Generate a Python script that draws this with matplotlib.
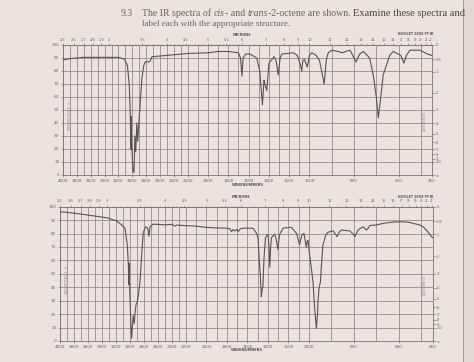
import numpy as np
import matplotlib
matplotlib.use("Agg")
import matplotlib.pyplot as plt
from matplotlib.patches import Rectangle
from matplotlib.lines import Line2D

plt.rcParams['font.family'] = ['DejaVu Sans']

# ---------------- data ----------------
wavenumber_ticks = [4000, 3800, 3600, 3400, 3200, 3000, 2800, 2600, 2400, 2200,
                    2000, 1800, 1600, 1400, 1200, 1000, 800, 600, 450]
wavenumber_grid = list(range(4000, 400, -100)) + [450]
micron_ticks = [2.5, 2.6, 2.7, 2.8, 2.9, 3, 3.5, 4, 4.5, 5, 5.5, 6, 7, 8, 9, 10,
                11, 12, 13, 14, 15, 16, 17, 18, 19, 20, 21, 22]
micron_labels = ['2.5', '2.6', '2.7', '2.8', '2.9', '3', '3.5', '4', '4.5', '5',
                 '5.5', '6', '7', '8', '9', '10', '11', '12', '13', '14', '15',
                 '16', '17', '18', '19', '20', '21', '22']
micron_minor = [3.1, 3.2, 3.3, 3.4, 3.6, 3.7, 3.8, 3.9, 4.1, 4.2, 4.3, 4.4, 4.6,
                4.7, 4.8, 4.9, 5.1, 5.2, 5.3, 5.4, 5.6, 5.7, 5.8, 5.9, 6.5, 7.5,
                8.5, 9.5, 10.5, 11.5, 12.5, 13.5, 14.5]
transmittance_ticks = [0, 10, 20, 30, 40, 50, 60, 70, 80, 90, 100]
absorbance_ticks = [0.0, 0.05, 0.1, 0.2, 0.3, 0.4, 0.5, 0.6, 0.7, 0.8, 0.9, 1.0]
absorbance_labels = ['0', '.05', '.1', '.2', '.3', '.4', '.5', '.6', '.7', '.8',
                     '.9', '1.0']

# upper spectrum (wavenumber, %T)
top_wn = [4000, 3900, 3700, 3400, 3200, 3110, 3070, 3045, 3030, 3022, 3015, 3008,
          2990, 2975, 2962, 2950, 2935, 2922, 2905, 2880, 2860, 2835, 2815, 2760,
          2740, 2715, 2500, 2300, 2200, 2000, 1900, 1800, 1700, 1680, 1665, 1655,
          1630, 1585, 1520, 1490, 1464, 1448, 1440, 1421, 1400, 1349, 1330, 1307,
          1290, 1273, 1159, 1120, 1090, 1077, 1065, 1051, 1035, 1022, 1000, 990,
          970, 955, 934, 925, 916, 900, 870, 855, 818, 791, 775, 758, 730, 714,
          700, 691, 680, 669, 640, 624, 590, 576, 565, 549, 504, 470, 451]
top_T = [88.5, 89.5, 90.5, 90.5, 90.5, 89, 84, 70, 50, 20, 45, 22,
         3, 2, 30, 18, 40, 26, 40, 60, 75, 84, 87, 87,
         88, 91, 92, 93, 93.5, 94, 95, 95, 94, 90, 76, 90,
         93, 93, 90, 80, 54, 73, 70, 65, 86, 91, 88, 77,
         90, 93, 94, 92, 85, 80, 88, 89, 86, 83, 92, 94,
         92, 88, 70, 88, 94, 96, 95, 94, 96, 87, 93, 95, 90, 77,
         60, 44, 60, 77, 92, 95, 92, 86, 92, 96, 96, 93, 92]

# lower spectrum (wavenumber, %T)
bot_wn = [4000, 3850, 3667, 3500, 3333, 3190, 3119, 3071, 3038, 3022, 3018, 3014,
          3008, 2995, 2986, 2976, 2965, 2953, 2939, 2925, 2914, 2896, 2881, 2857,
          2833, 2810, 2776, 2747, 2729, 2714, 2667, 2500, 2400, 2360, 2333, 2238,
          2100, 1999, 1900, 1804, 1770, 1755, 1740, 1722, 1705, 1691, 1670, 1643,
          1545, 1510, 1497, 1483, 1473, 1465, 1458, 1449, 1440, 1425, 1410, 1399,
          1390, 1382, 1374, 1366, 1333, 1315, 1302, 1293, 1285, 1253, 1172, 1120,
          1100, 1091, 1080, 1065, 1049, 1035, 1026, 1018, 1010, 1000, 990, 982,
          975, 967, 962, 960, 955, 949, 945, 938, 925, 915, 893, 884, 875, 866,
          856, 819, 805, 796, 789, 782, 770, 759, 750, 744, 737, 729, 700, 670,
          630, 596, 560, 537, 510, 492, 470, 455, 450]
bot_T = [96.3, 95.5, 94.3, 93, 91.8, 89.4, 86.4, 83.9, 71.5, 55, 42, 58,
         45, 25, 9.5, 2, 12, 19, 13, 22, 27, 29, 34, 44,
         64, 81, 85, 84, 78, 85, 87, 86.5, 86.8, 85.5, 86.4, 86,
         85.5, 84.6, 84.2, 84, 83.5, 81.5, 83, 82, 83, 81.5, 83.5, 84,
         84, 80, 76.5, 58, 46.7, 33, 38, 40, 60, 76.5, 79, 79,
         70, 55, 70, 77, 79.5, 74, 68, 76, 79.5, 84, 84.7, 80,
         74, 71.7, 76, 79.5, 80, 74, 70, 74, 75, 68, 55, 44,
         25, 9.5, 20, 29, 40, 44, 55, 71.5, 79, 81, 82, 80, 77.7, 81,
         82.6, 82, 80, 77.7, 80, 82.6, 84, 85, 83.5, 82.6, 84, 86, 86.4, 87.6,
         88.5, 88.8, 88.5, 87.6, 86.5, 85, 81, 77.7, 77]

# ---------------- layout / style ----------------
W, H = 474, 362
BG = '#ECE2DE'
GRID = '#8c8683'
INK = '#6b6563'
LINE = '#5a5452'

knot_wn = [450, 1000, 2200, 4000]
knot_pos = [0.0, 0.332, 0.662, 1.0]


def piecewise(xp, fp):
    xp = np.asarray(xp, float)
    fp = np.asarray(fp, float)

    def f(x):
        x = np.asarray(x, float)
        y = np.interp(x, xp, fp)
        y = np.where(x < xp[0], fp[0] + (x - xp[0]) * (fp[1] - fp[0]) / (xp[1] - xp[0]), y)
        y = np.where(x > xp[-1], fp[-1] + (x - xp[-1]) * (fp[-1] - fp[-2]) / (xp[-1] - xp[-2]), y)
        return y
    return f


fwd = piecewise(knot_wn, knot_pos)
inv = piecewise(knot_pos, knot_wn)


def px(x, y):
    return x / W, 1 - y / H


fig = plt.figure(figsize=(W / 100, H / 100), dpi=100)
fig.patch.set_facecolor(BG)
renderer = fig.canvas.get_renderer()

# page edge strip on the right
fig.add_artist(Rectangle((463 / W, 0), 1, 1, transform=fig.transFigure,
                         facecolor='#E2D9D5', edgecolor='none', zorder=0))
fig.add_artist(Line2D([463 / W, 463 / W], [0, 1], transform=fig.transFigure,
                      color='#9a928f', lw=0.6))


def seq_text(x_px, y_px, parts):
    """Lay out text pieces one after another (for mixed italic words)."""
    cur = x_px
    for s, style, size, color in parts:
        t = fig.text(cur / W, 1 - y_px / H, s, fontsize=size, style=style,
                     family='Liberation Serif', color=color, va='center', ha='left')
        bb = t.get_window_extent(renderer)
        cur = bb.x1
    return cur


# question text
fig.text(*px(121, 13), '9.3', fontsize=7.0, family='Liberation Serif',
         color='#6a6462', va='center', ha='left')
c1 = '#6a6462'
c2 = '#4a4442'
seq_text(142, 13, [('The IR spectra of ', 'normal', 7.1, c1),
                   ('cis', 'italic', 7.1, c1),
                   ('- and ', 'normal', 7.1, c1),
                   ('trans', 'italic', 7.1, c1),
                   ('-2-octene are shown. ', 'normal', 7.1, c1),
                   ('Examine these spectra and', 'normal', 7.6, c2)])
fig.text(*px(142, 24), 'label each with the appropriate structure.',
         fontsize=6.5, family='Liberation Serif', color='#6e6866', va='center', ha='left')


def make_chart(rect, wn, T, mic_x, nic_x, wave_y, mic_y, nic_y):
    ax = fig.add_axes(rect)
    ax.set_facecolor('none')
    ax.set_xscale('function', functions=(fwd, inv))
    ax.set_xlim(4000, 450)
    ax.set_ylim(0, 100)
    ax.set_xticks(wavenumber_ticks)
    ax.set_xticklabels([str(v) for v in wavenumber_ticks])
    ax.set_xticks(wavenumber_grid, minor=True)
    ax.set_yticks(transmittance_ticks)
    ax.grid(True, which='both', axis='x', color=GRID, lw=0.55)
    ax.grid(True, which='major', axis='y', color=GRID, lw=0.55)
    ax.tick_params(axis='both', which='major', labelsize=3.0, colors=INK,
                   length=1.5, width=0.4, pad=1.2)
    ax.tick_params(axis='x', which='minor', length=0)
    for s in ax.spines.values():
        s.set_color('#7b7572')
        s.set_linewidth(0.6)
    ax.plot(wn, T, color=LINE, lw=0.8, zorder=3)

    # top micron scale
    axt = ax.twiny()
    axt.set_xscale('function', functions=(fwd, inv))
    axt.set_xlim(4000, 450)
    axt.set_xticks([10000 / m for m in micron_ticks])
    axt.set_xticklabels(micron_labels)
    axt.set_xticks([10000 / m for m in micron_minor], minor=True)
    axt.tick_params(axis='x', which='major', labelsize=2.6, colors=INK,
                    length=1.8, width=0.4, pad=0.6)
    axt.tick_params(axis='x', which='minor', length=1.0, width=0.3, colors=INK)
    for lab, m in zip(axt.get_xticklabels(), micron_ticks):
        if m >= 17:
            lab.set_fontsize(2.0)
    for s in axt.spines.values():
        s.set_visible(False)

    # right absorbance scale
    axr = ax.twinx()
    axr.set_ylim(0, 100)
    axr.set_yticks([100 * 10 ** (-a) for a in absorbance_ticks] + [0])
    axr.set_yticklabels(absorbance_labels + ['\u221e'])
    axr.tick_params(axis='y', labelsize=2.6, colors=INK, length=1.8,
                    width=0.4, pad=0.8)
    for s in axr.spines.values():
        s.set_visible(False)

    # small vertical scale names
    ax.text(0.02, 0.45, 'TRANSMITTANCE  %', rotation=90, fontsize=2.2,
            color='#9a9390', transform=ax.transAxes, ha='center', va='center')
    ax.text(0.98, 0.42, 'ABSORBANCE', rotation=90, fontsize=2.2,
            color='#9a9390', transform=ax.transAxes, ha='center', va='center')

    fig.text(*px(mic_x, mic_y), 'MICRONS', fontsize=2.5, color='#555', weight='bold',
             ha='center', va='center')
    fig.text(*px(nic_x, nic_y), 'NICOLET 20SX FT-IR', fontsize=2.3, color='#555',
             weight='bold', ha='center', va='center')
    fig.text(*px(mic_x + 6, wave_y), 'WAVENUMBERS', fontsize=2.6, color='#555',
             weight='bold', ha='center', va='center')
    return ax


top_rect = [63 / W, 1 - 175 / H, (432 - 63) / W, (175 - 45) / H]
bot_rect = [60 / W, 1 - 341 / H, (432.7 - 60) / W, (341 - 206.7) / H]

make_chart(top_rect, top_wn, top_T, 242, 416, 185, 34.5, 34)
make_chart(bot_rect, bot_wn, bot_T, 241, 416, 350, 197.5, 197)

fig.savefig('out.png', dpi=100, facecolor=BG)
